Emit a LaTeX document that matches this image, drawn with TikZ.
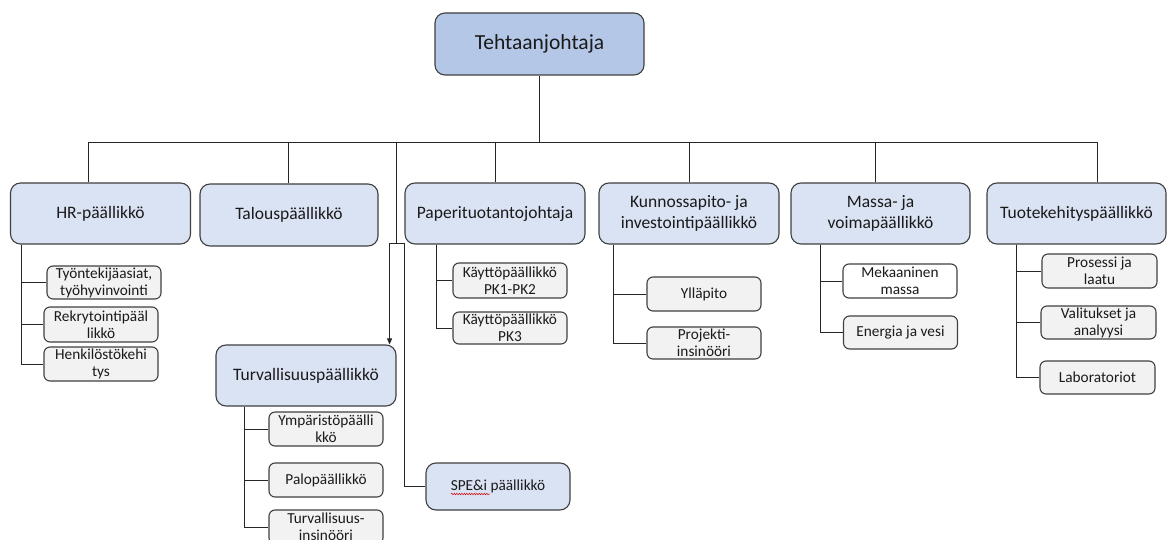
\documentclass[tikz,border=0pt]{standalone}
\usepackage{fontspec}
\setmainfont{Carlito}
\usetikzlibrary{arrows.meta,decorations.pathmorphing}
\definecolor{topfill}{HTML}{B4C7E7}
\definecolor{midfill}{HTML}{DAE3F3}
\definecolor{subfill}{HTML}{F2F2F2}
\definecolor{edge}{HTML}{404040}
\definecolor{txt}{HTML}{1A1A1A}
\begin{document}
\begin{tikzpicture}[x=1pt,y=-1pt,
  base/.style={draw=edge, line width=1.1pt, align=center, inner sep=0pt, text=txt},
  topbox/.style={base, fill=topfill, rounded corners=10pt, minimum width=209, minimum height=62, font=\fontsize{21.5}{25}\selectfont},
  midbox/.style={base, fill=midfill, rounded corners=10pt, minimum width=180, minimum height=61, font=\fontsize{17.5}{20.5}\selectfont},
  subbox/.style={base, fill=subfill, rounded corners=6pt, minimum width=114, minimum height=34, font=\fontsize{15.3}{17}\selectfont},
  wline/.style={draw=black!85, line width=0.9pt}
]
\useasboundingbox[fill=white] (0,0) rectangle (1169,540);

% top
\node[topbox] (top) at (539.5,44) {Tehtaanjohtaja};

% level 2
\node[midbox] (hr) at (100.5,213.5) {HR-päällikkö};
\node[midbox, minimum width=178, minimum height=62] (tal) at (289,215) {Talouspäällikkö};
\node[midbox] (pap) at (495,213.5) {Paperituotantojohtaja};
\node[midbox] (kun) at (689,213.5) {Kunnossapito- ja\\investointipäällikkö};
\node[midbox, minimum width=179] (mas) at (880.5,213.5) {Massa- ja\\voimapäällikkö};
\node[midbox, minimum width=179] (tuo) at (1076.5,213.5) {Tuotekehityspäällikkö};
\node[midbox] (tur) at (306,375.5) {Turvallisuuspäällikkö};
\node[midbox, minimum width=144, minimum height=47, font=\fontsize{15.3}{17}\selectfont] (spe) at (498,486.5) {SPE\&i päällikkö};

% HR children
\node[subbox, minimum height=33] (hr1) at (104,282.5) {Työntekijäasiat,\\työhyvinvointi};
\node[subbox, minimum height=35] (hr2) at (101,324.5) {Rekrytointipääl\\likkö};
\node[subbox] (hr3) at (101,364) {Henkilöstökehi\\tys};

% Turvallisuus children
\node[subbox] (tu1) at (326,429) {Ympäristöpäälli\\kkö};
\node[subbox] (tu2) at (326,480) {Palopäällikkö};
\node[subbox] (tu3) at (326,527) {Turvallisuus-\\insinööri};

% Paperi children
\node[subbox, minimum height=35] (pa1) at (510,280.5) {Käyttöpäällikkö\\PK1-PK2};
\node[subbox, minimum height=32] (pa2) at (510,328) {Käyttöpäällikkö\\PK3};

% Kunnossapito children
\node[subbox] (ku1) at (704,294) {Ylläpito};
\node[subbox, minimum height=32] (ku2) at (704,343) {Projekti-\\insinööri};

% Massa children
\node[subbox, fill=white] (ma1) at (900,281) {Mekaaninen\\massa};
\node[subbox, minimum height=33] (ma2) at (900.5,332.5) {Energia ja vesi};

% Tuotekehitys children
\node[subbox, minimum width=115] (to1) at (1099.5,271) {Prosessi ja\\laatu};
\node[subbox, minimum width=115, minimum height=33] (to2) at (1098.5,322.5) {Valitukset ja\\analyysi};
\node[subbox, minimum width=115, minimum height=33] (to3) at (1097.5,377.5) {Laboratoriot};

% bus
\coordinate (bus) at (539.5,142);
\draw[wline] (top.south) -- (bus);
\draw[wline] ([xshift=-12.5pt]hr.north) |- (bus);
\draw[wline] ([xshift=-1pt]tal.north) |- (bus);
\draw[wline] (pap.north) |- (bus);
\draw[wline] (kun.north) |- (bus);
\draw[wline] ([xshift=-5.5pt]mas.north) |- (bus);
\draw[wline] ([xshift=20.5pt]tuo.north) |- (bus);

% branch to Turvallisuus and SPE
\coordinate (jn) at (396,243);
\draw[wline] (jn) -- (jn |- bus);
\draw[wline, -{Triangle[length=6pt,width=5pt]}] (jn) -| ([xshift=-7pt]tur.north east);
\draw[wline] (jn) -- ++(8.5,0) |- (spe.west);

% children connectors
\draw[wline] ([xshift=-79.5pt]hr.south) |- (hr1.west);
\draw[wline] ([xshift=-79.5pt]hr.south) |- (hr2.west);
\draw[wline] ([xshift=-79.5pt]hr.south) |- (hr3.west);

\draw[wline] ([xshift=-62pt]tur.south) |- (tu1.west);
\draw[wline] ([xshift=-62pt]tur.south) |- (tu2.west);
\draw[wline] ([xshift=-62pt]tur.south) |- (tu3.west);

\draw[wline] ([xshift=-59pt]pap.south) |- (pa1.west);
\draw[wline] ([xshift=-59pt]pap.south) |- (pa2.west);

\draw[wline] ([xshift=-76pt]kun.south) |- (ku1.west);
\draw[wline] ([xshift=-76pt]kun.south) |- (ku2.west);

\draw[wline] ([xshift=-60.5pt]mas.south) |- (ma1.west);
\draw[wline] ([xshift=-60.5pt]mas.south) |- (ma2.west);

\draw[wline] ([xshift=-60.5pt]tuo.south) |- (to1.west);
\draw[wline] ([xshift=-60.5pt]tuo.south) |- (to2.west);
\draw[wline] ([xshift=-60.5pt]tuo.south) |- (to3.west);

% spell-check underline
\draw[red!85!black, line width=0.5pt, decorate, decoration={snake, amplitude=0.7pt, segment length=2.5pt}]
  ([xshift=-47pt,yshift=-7.5pt]spe.center) -- ([xshift=-8pt,yshift=-7.5pt]spe.center);
\end{tikzpicture}
\end{document}
